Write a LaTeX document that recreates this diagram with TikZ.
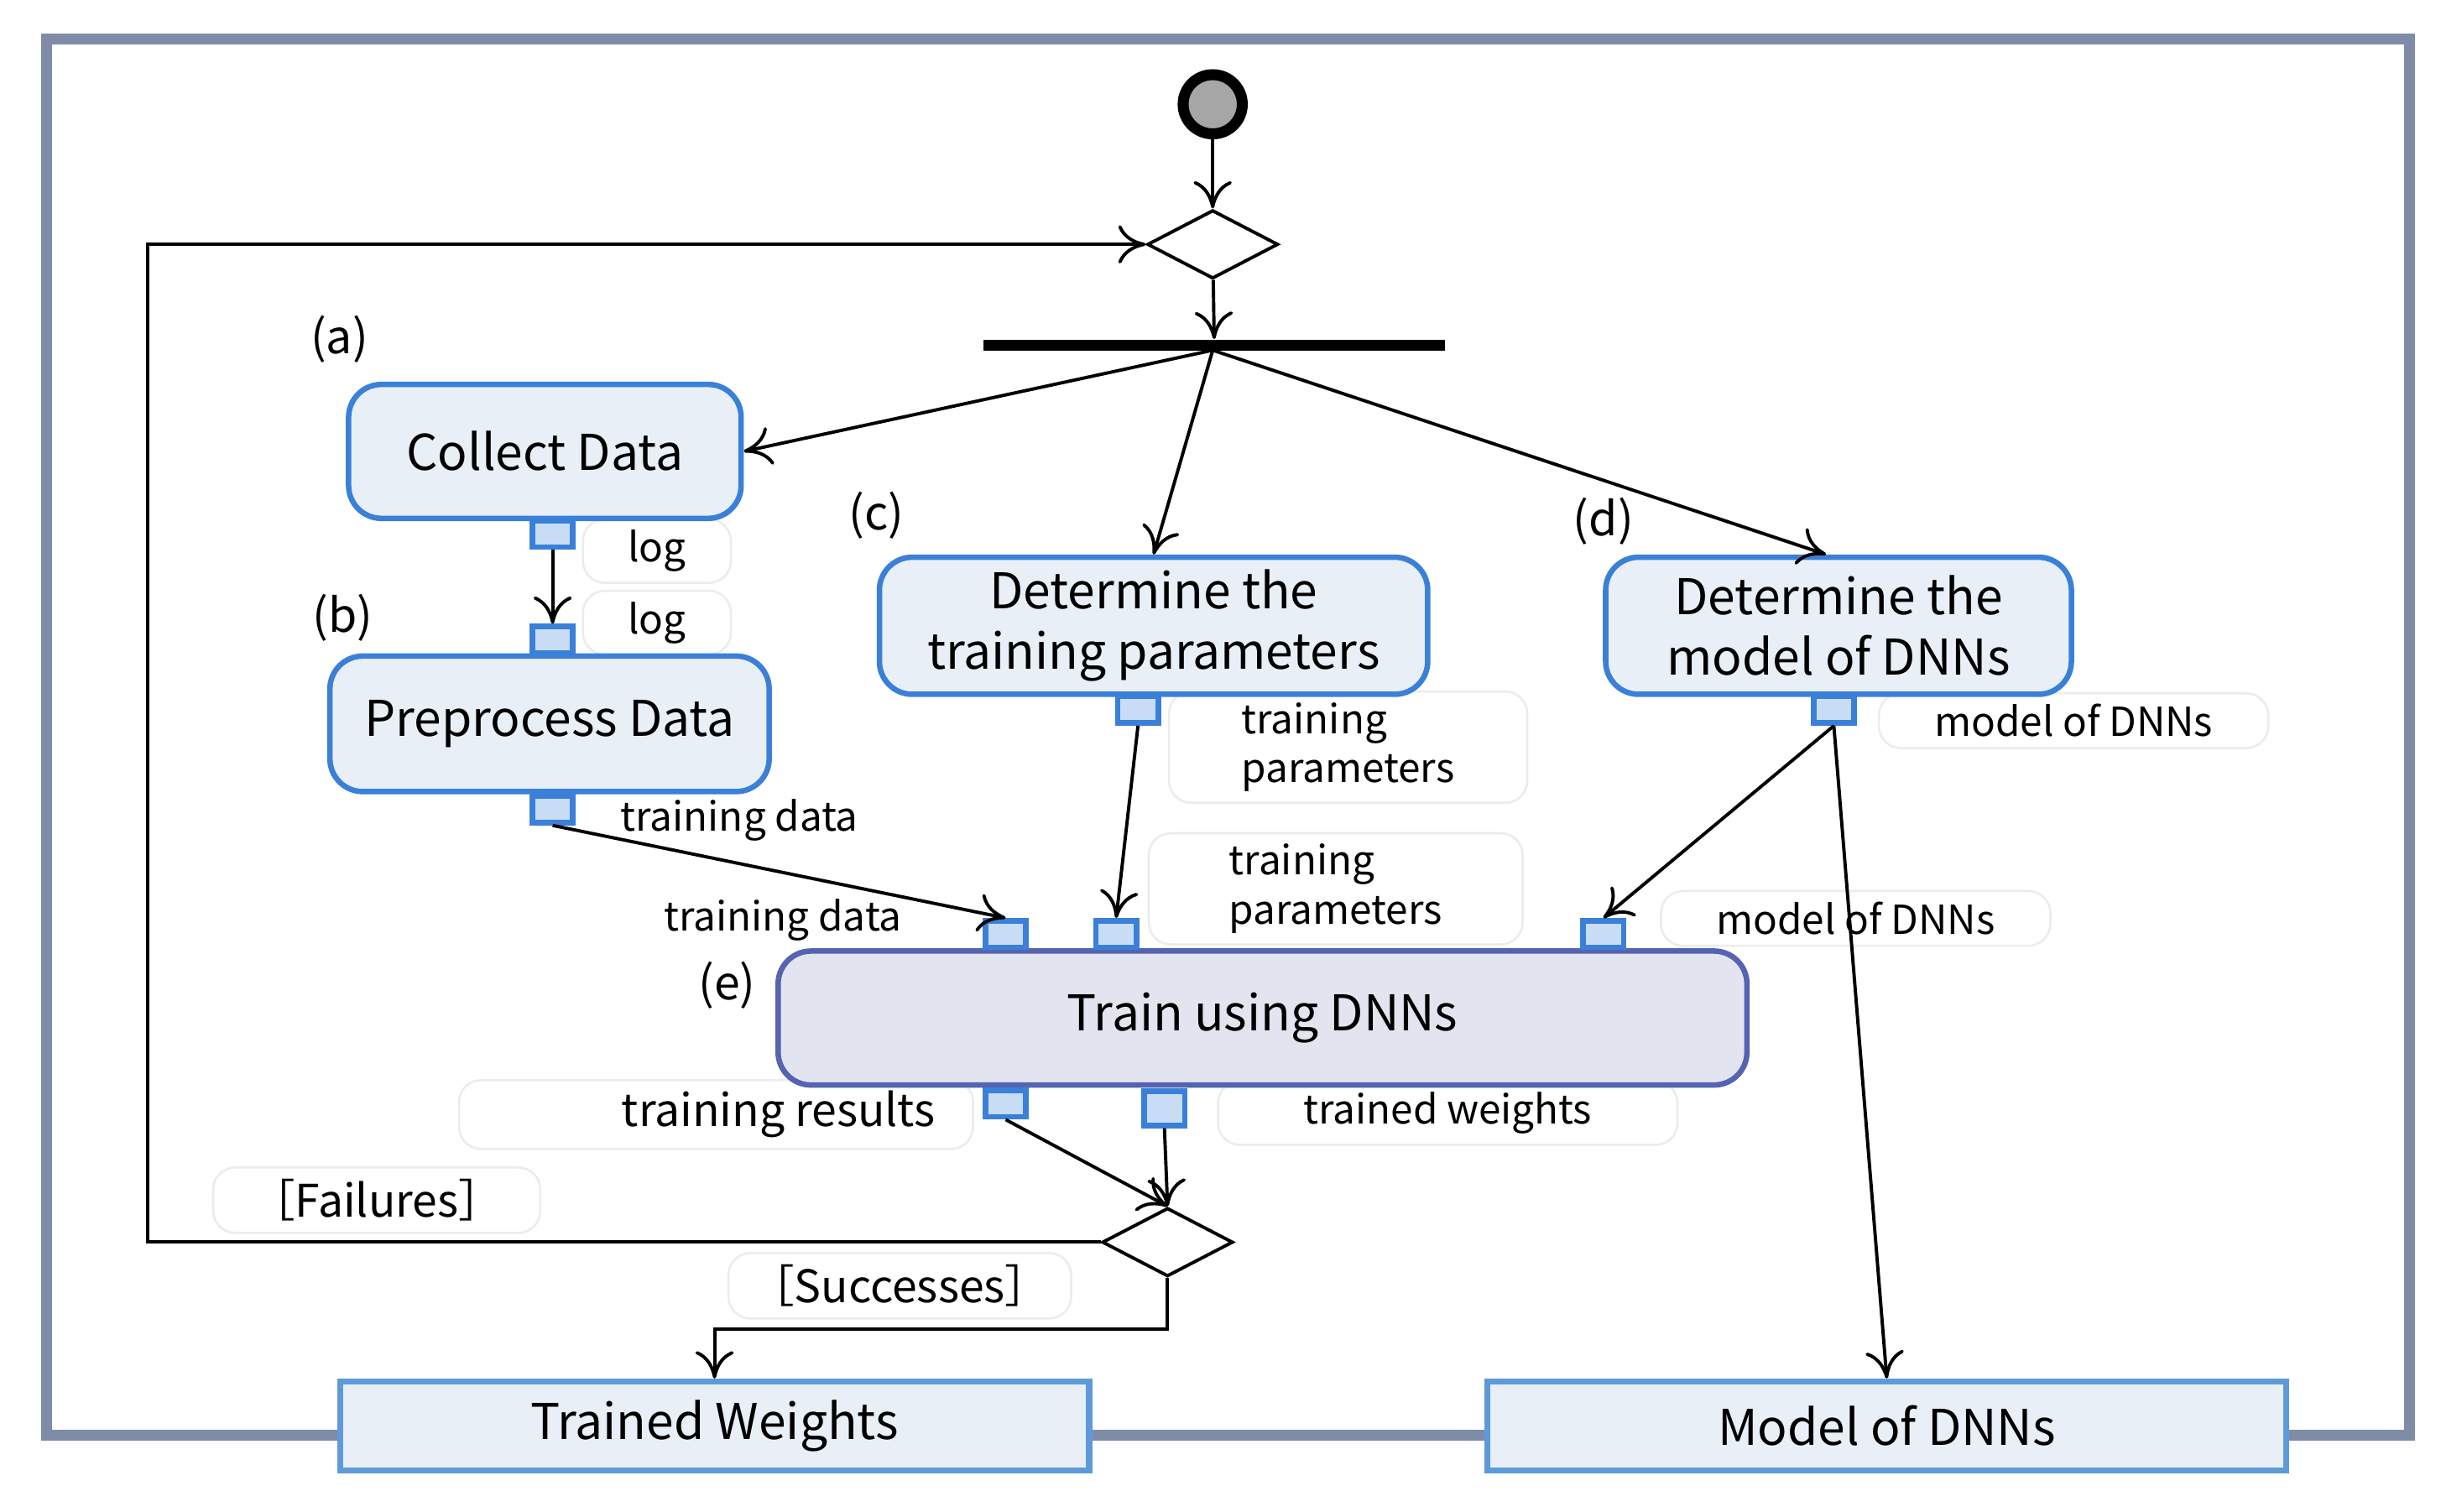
\documentclass[tikz,border=0pt]{standalone}
\usepackage{fontspec}
\setmainfont{Noto Sans CJK JP}
\usetikzlibrary{shapes.geometric,arrows.meta}
\definecolor{frame}{HTML}{7F8CA8}
\definecolor{actfill}{HTML}{E9EFF7}
\definecolor{actbd}{HTML}{3A80D8}
\definecolor{pinfill}{HTML}{C8DDF5}
\definecolor{trfill}{HTML}{E2E5EF}
\definecolor{trbd}{HTML}{5563B0}
\definecolor{objbd}{HTML}{5E9ADA}
\begin{document}
\begin{tikzpicture}[x=0.01cm,y=-0.01cm,
 act/.style={draw=actbd,fill=actfill,line width=1pt,rounded corners=6pt,align=center,font=\fontsize{9}{11}\selectfont,inner sep=0pt},
 pin/.style={draw=actbd,fill=pinfill,line width=1pt,minimum width=0.26cm,minimum height=0.17cm,inner sep=0pt},
 obj/.style={draw=objbd,fill=actfill,line width=1.1pt,font=\fontsize{9}{11}\selectfont,inner sep=0pt},
 lab/.style={font=\fontsize{7.3}{9}\selectfont,align=left,draw=gray!15,rounded corners=4pt,fill=white,inner sep=2pt},
 tag/.style={font=\fontsize{8.5}{10}\selectfont},
 arr/.style={-{To[length=5pt,width=7pt]},line width=0.6pt},
 ln/.style={line width=0.6pt}]
\useasboundingbox (0,0) rectangle (1568,971);
\draw[frame,line width=2pt] (30,25) rectangle (1548,922);
% pin labels
\node[lab,minimum width=0.95cm,minimum height=0.34cm] (l1) at (422,354) {log};
\node[lab,minimum width=0.95cm,minimum height=0.34cm] (l2) at (422,400) {log};
\node[lab,minimum width=2.3cm,minimum height=0.66cm] (l5) at (866,480) {training\\parameters};
\node[lab,minimum width=2.4cm,minimum height=0.66cm] (l6) at (858,571) {training\\parameters};
\node[lab,minimum width=2.5cm,minimum height=0.34cm] (l7) at (1332,463) {model of DNNs};
\node[lab,minimum width=2.5cm,minimum height=0.34cm] (l8) at (1192,590) {model of DNNs};
\node[lab,minimum width=3.3cm,minimum height=0.42cm,font=\fontsize{8.2}{10}\selectfont] (l9) at (460,716) {\hspace{0.8cm}training results};
\node[lab,minimum width=2.95cm,minimum height=0.34cm] (l10) at (930,715) {trained weights};
\node[lab,minimum width=2.1cm,minimum height=0.42cm,font=\fontsize{8.2}{10}\selectfont] (l11) at (242,771) {［Failures］};
\node[lab,minimum width=2.2cm,minimum height=0.42cm,font=\fontsize{8.2}{10}\selectfont] (l12) at (578,826) {［Successes］};
\node[font=\fontsize{7.3}{9}\selectfont] (l3) at (475,527) {training data};
\node[font=\fontsize{7.3}{9}\selectfont] (l4) at (503,591) {training data};
% control nodes
\node[circle,draw,line width=2pt,fill=gray!70,minimum size=0.38cm,inner sep=0pt] (init) at (779,67) {};
\node[diamond,draw,ln,fill=white,minimum width=0.84cm,minimum height=0.44cm,inner sep=0pt,aspect=1.9] (d1) at (779,157) {};
\node[fill=black,minimum width=2.96cm,minimum height=0.07cm,inner sep=0pt] (bar) at (780,222) {};
\node[diamond,draw,ln,fill=white,minimum width=0.84cm,minimum height=0.44cm,inner sep=0pt,aspect=1.9] (d2) at (750,798) {};
% actions
\node[act,minimum width=2.52cm,minimum height=0.86cm] (collect) at (350,290) {Collect Data};
\node[act,minimum width=2.82cm,minimum height=0.87cm] (prep) at (353,465) {Preprocess Data};
\node[act,minimum width=3.52cm,minimum height=0.88cm] (param) at (741,402) {Determine the\\training parameters};
\node[act,minimum width=2.99cm,minimum height=0.88cm] (model) at (1181,402) {Determine the\\model of DNNs};
\node[act,draw=trbd,fill=trfill,minimum width=6.22cm,minimum height=0.86cm] (train) at (811,654) {Train using DNNs};
\node[obj,minimum width=4.81cm,minimum height=0.57cm] (tw) at (459,916) {Trained Weights};
\node[obj,minimum width=5.13cm,minimum height=0.57cm] (md) at (1212,916) {Model of DNNs};
% tags
\node[tag] at (218,218) {(a)};
\node[tag] at (220,397) {(b)};
\node[tag] at (563,331) {(c)};
\node[tag] at (1030,335) {(d)};
\node[tag] at (467,633) {(e)};
% pins
\node[pin] (p1) at (355,343) {};
\node[pin] (p2) at (355,411) {};
\node[pin] (p3) at (355,520) {};
\node[pin] (p4) at (731,456) {};
\node[pin] (p5) at (1178,456) {};
\node[pin] (p6) at (646,600) {};
\node[pin] (p7) at (717,600) {};
\node[pin] (p8) at (1030,600) {};
\node[pin] (p9) at (646,709) {};
\node[pin,minimum height=0.22cm] (p10) at (748,712) {};
\coordinate (bc) at (779,225);
% edges
\draw[arr] (init) -- (d1);
\draw[arr] (d1) -- (bar);
\draw[arr] (bc) -- (collect.east);
\draw[arr] (bc) -- (param.north);
\draw[arr] (bc) -- ([xshift=-0.08cm]model.north);
\draw[arr] (p1.south) -- (p2.north);
\draw[arr] (p3.south) -- (p6.north);
\draw[arr] (p4.south) -- (p7.north);
\draw[arr] (p5.south) -- (p8.north);
\draw[arr] (p5.south) -- (md.north);
\draw[arr] (p9.south) -- (d2.north);
\draw[arr] (p10.south) -- (d2.north);
\draw[arr] (d2.west) -- (95,798) -- (95,157) -- (d1.west);
\draw[arr] (d2.south) -- (750,854) -- (459,854) -- (tw.north);
\end{tikzpicture}
\end{document}
